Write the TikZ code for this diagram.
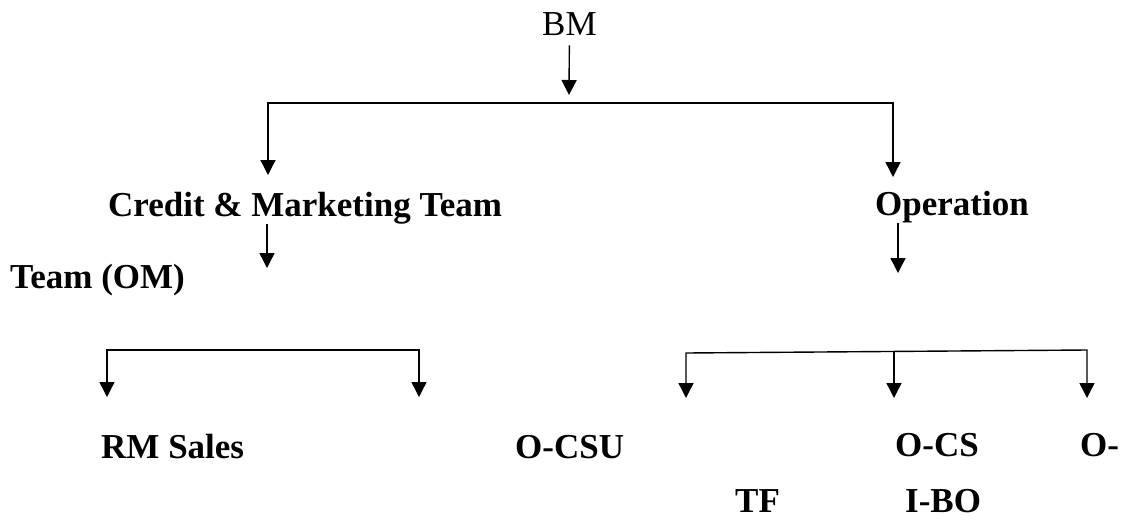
\documentclass[tikz,border=0pt]{standalone}
\usepackage{fontspec}
\setmainfont{Liberation Serif}
\usetikzlibrary{arrows.meta}
\begin{document}
\begin{tikzpicture}[x=1pt,y=-1pt,
  lbl/.style={anchor=base west,inner sep=0pt,font=\fontsize{35}{40}\selectfont},
  blbl/.style={lbl,font=\fontsize{35}{40}\selectfont\bfseries},
  link/.style={line width=1.4pt},
  arr/.style={link,-{Triangle[width=15pt,length=15pt]}},
  twoarr/.style={link,{Triangle[width=15pt,length=15pt]}-{Triangle[width=15pt,length=15pt]}}]
\useasboundingbox (0,0) rectangle (1125,520);

% labels
\node[lbl]  (bm)     at (542,35)  {BM};
\node[blbl] (credit) at (108,216) {Credit \& Marketing Team};
\node[blbl] (oper)   at (875,215) {Operation};
\node[blbl] (teamom) at (10,288)  {Team (OM)};
\node[blbl] (rm)     at (101,458) {RM Sales};
\node[blbl] (ocsu)   at (515,458) {O-CSU};
\node[blbl] (ocs)    at (895,456) {O-CS};
\node[blbl] (odash)  at (1080,456) {O-};
\node[blbl] (tf)     at (735,512) {TF};
\node[blbl] (ibo)    at (905,512) {I-BO};

% arrow ends and bracket corners
\coordinate (bmtip) at (569,95);
\coordinate (topL)  at (268,103);
\coordinate (topR)  at (893,103);
\coordinate (cmtip) at (268,175);
\coordinate (optip) at (893,177);
\coordinate (cmdown) at (267,268);
\coordinate (opdown) at (898,273);
\coordinate (lbL) at (107,350);
\coordinate (lbR) at (419,350);
\coordinate (lbLtip) at (107,397);
\coordinate (lbRtip) at (419,397);
\coordinate (rbL) at (686,353);
\coordinate (rbR) at (1087,350);
\coordinate (rbM) at (894,351.5);
\coordinate (rbLtip) at (686,398);
\coordinate (rbMtip) at (894,398);
\coordinate (rbRtip) at (1087,398);

% BM to the two teams
\draw[arr,shorten <=10pt] (bm.south) -- (bmtip);
\draw[twoarr] (cmtip) -- (topL) -- (topR) -- (optip);

% downward arrows below the teams
\draw[arr] (cmdown |- credit.south) -- (cmdown);
\draw[arr] (opdown |- oper.south) -- (opdown);

% lower brackets
\draw[twoarr] (lbLtip) -- (lbL) -- (lbR) -- (lbRtip);
\draw[twoarr] (rbLtip) -- (rbL) -- (rbR) -- (rbRtip);
\draw[arr] (rbM) -- (rbMtip);
\end{tikzpicture}
\end{document}
